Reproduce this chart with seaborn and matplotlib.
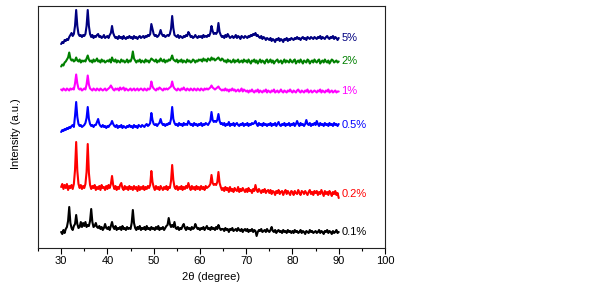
import numpy as np
import pandas as pd
import matplotlib
matplotlib.use("Agg")
import matplotlib.pyplot as plt
import seaborn as sns

sns.set_style("white")
plt.rcParams['font.family'] = ['Liberation Sans', 'DejaVu Sans']
plt.rcParams['font.size'] = 8
plt.rcParams['text.color'] = 'black'
plt.rcParams['axes.labelcolor'] = 'black'
plt.rcParams['xtick.color'] = 'black'

# 2theta grid of the scans (degrees)
two_theta = np.arange(30.0, 90.001, 0.25)

# relative intensities (a.u.), one value per 0.25 deg, 5 deg per row
i_01 = [-2, -4, 0, -3, 1, 3, 9, 23, 7, 2, 0, 4, 6, 15, 6, 2, 3, 8, 3, 7,
        4, 8, 3, 5, 4, 9, 21, 8, 3, 4, 7, 3, 2, 4, 1, 3, 0, 2, 6, 2,
        1, 3, 0, 4, 8, 3, 1, 4, 0, 2, 1, 3, 0, 4, 1, 2, 0, 3, 1, 2,
        1, 7, 20, 7, 2, 0, 3, 1, 4, 0, 2, 1, 3, 0, 4, 1, 2, 0, 3, 1,
        2, 0, 3, 1, 4, 0, 2, 1, 3, 0, 2, 4, 5, 12, 6, 3, 5, 3, 8, 2,
        1, 3, 0, 2, 1, 4, 6, 2, 0, 3, 1, 2, 0, 3, 1, 2, 6, 3, 1, 2,
        0, 2, 1, 3, 0, 2, 4, 1, 2, 0, 3, 1, 2, 0, 3, 1, 5, 2, 0, 1,
        1, -1, 2, 0, 1, -2, 1, 0, 2, -1, 0, 1, -1, 2, 0, -1, 1, -2, 0, 1,
        -1, 1, -2, 0, -1, 1, -2, 0, -1, -6, -2, 0, -1, 1, -2, -1, 0, -2, 1, -1,
        -2, 0, 3, -1, -2, 0, -3, -1, 0, -2, -1, -3, 0, -2, -1, -3, 0, -2, -1, -3,
        -1, -3, 0, -2, -1, -3, -2, 0, -3, -1, -2, -4, -1, -2, -3, 0, -2, -1, -3, -2,
        -1, -3, -2, 0, -3, -1, -2, -4, -1, -2, 0, -3, -1, -2, -4, -1, -3, -2, 0, -3,
        -2]

i_02 = [3, 6, 1, 5, 2, 6, 0, 4, 2, 5, 1, 6, 20, 48, 19, 6, 2, 5, 1, 4,
        2, 6, 18, 46, 17, 5, 1, 4, 2, 5, 0, 3, 1, 4, 0, 5, 2, 3, 0, 4,
        1, 5, 2, 6, 14, 5, 1, 4, 0, 3, 1, 5, 7, 2, 0, 4, 1, 3, 0, 4,
        1, 3, 0, 4, 1, 3, -1, 4, 0, 3, 1, 4, 0, 3, 1, 4, 2, 5, 19, 8,
        3, 0, 4, 1, 3, 0, 4, 2, 0, 3, 1, 4, 0, 3, 2, 9, 25, 10, 3, 1,
        4, 0, 3, 1, 4, 0, 3, 1, 4, 2, 7, 3, 0, 4, 1, 3, 0, 4, 1, 3,
        0, 4, 1, 3, 0, 4, 2, 3, 4, 6, 15, 7, 5, 6, 5, 8, 18, 7, 3, 0,
        2, -1, 3, 0, 2, -2, 3, -1, 1, -2, 2, 0, -1, 3, -2, 1, -1, 2, 0, -2,
        1, -2, 2, -1, 0, -3, 1, -1, 5, 0, -2, 1, -1, -3, 0, -2, 1, -3, -1, 0,
        -3, 0, -4, -1, -2, -5, -1, -3, 0, -4, -2, -1, -5, -2, 0, -4, -1, -3, -5, -1,
        -2, -5, -1, -3, -4, 0, -3, -5, -1, -2, -4, -1, -3, -5, -2, 0, -4, -2, -5, -1,
        -3, -1, -5, -2, -4, 0, -3, -6, -1, -4, -2, -5, -1, -3, -6, -2, -4, -1, -5, -3,
        -8]

i_05 = [-6, -4, -5, -3, -4, -2, -3, -1, -2, 0, 1, -1, 10, 24, 9, 2, 0, 1, -1, 0,
        1, 3, 8, 19, 7, 2, 0, 1, -1, 1, 1, 4, 7, 2, 0, -1, 1, -1, 0, -2,
        0, -1, 1, 2, 5, 2, 0, -1, 1, -2, 0, -1, 1, -2, 0, -1, -2, 0, -1, 1,
        -1, 0, -2, 1, -1, 0, -2, 1, 0, -1, 1, 0, -1, 1, 2, 0, 1, 3, 13, 6,
        2, 1, 2, 0, 2, 3, 7, 3, 1, 2, 0, 2, 1, 3, 2, 7, 19, 7, 3, 1,
        2, 0, 3, 1, 2, 0, 3, 1, 2, 1, 5, 3, 1, 2, 0, 3, 1, 2, 0, 2,
        1, 3, 0, 2, 1, 3, 2, 1, 3, 5, 14, 6, 4, 5, 4, 6, 12, 5, 2, 3,
        1, 3, 0, 2, 1, 4, 0, 2, 1, 3, 0, 2, 3, 1, 0, 2, 1, 3, 0, 2,
        1, 3, 0, 2, 1, 3, 2, 3, 5, 2, 0, 3, 1, 2, 0, 3, 1, 2, 0, 2,
        1, 3, 0, 2, 1, 3, 0, 2, 4, 1, 0, 2, 1, 3, 0, 2, 1, 3, 0, 2,
        1, 3, 0, 2, 5, 2, 0, 3, 1, 2, 0, 2, 6, 2, 1, 3, 0, 2, 1, 3,
        1, 5, 2, 0, 3, 1, 2, 0, 3, 1, 2, 0, 3, 1, 2, 0, 3, 1, 2, 0,
        2]

i_1 = [0, -1, 1, 0, -1, 1, 0, -1, 1, 0, 1, 0, 6, 15, 6, 1, 0, 1, -1, 0,
       1, 0, 5, 14, 5, 1, 0, -1, 1, 0, -1, 1, 0, -1, 1, 0, -1, 0, 1, -1,
       0, 1, 2, 4, 2, 0, -1, 1, 0, 1, -1, 2, 0, 1, 2, -1, 1, 0, -1, 0,
       1, -1, 0, 1, -1, 0, 1, -1, 0, 1, 0, -1, 1, 0, -1, 1, 0, 1, 8, 3,
       1, 0, -1, 1, 0, 2, 1, 0, -1, 1, 0, 1, 0, 1, 2, 3, 8, 3, 1, 0,
       -1, 1, 0, -1, 1, 0, 2, 0, -1, 1, 0, -1, 1, 0, -1, 1, 0, -1, 1, 0,
       -1, 1, 0, -1, 1, 0, 1, 0, 1, 2, 4, 2, 1, 0, 1, 2, 3, 1, 0, -1,
       0, -1, 1, -1, 0, -2, 0, -1, 1, -1, 0, -2, -1, 0, -2, -1, 1, -2, 0, -1,
       -2, -1, -3, -1, -2, 0, -2, -3, -1, -2, 0, -3, -1, -2, -3, -1, -2, 0, -3, -1,
       -2, -3, -1, -2, 0, -3, -2, -1, -3, -2, 0, -2, -3, -1, -2, -3, -1, -2, 0, -2,
       -3, -1, -2, -3, -1, 0, -2, -3, -1, -2, -3, -1, -2, 0, -3, -2, -1, -3, -2, -1,
       -2, -3, -1, -2, 0, -3, -1, -2, -3, -1, -2, 0, -3, -2, -1, -3, -2, -1, -3, -2,
       -2]

i_2 = [-5, -3, -4, -1, 0, 2, 4, 9, 3, 1, 2, 0, 1, 4, 1, 0, 2, -1, 1, 0,
       1, 0, 3, 6, 2, 0, 1, -1, 2, 0, 1, 3, 0, 1, -1, 2, 0, 1, -1, 0,
       1, 0, 2, -1, 4, 1, 0, 2, -1, 1, 0, -1, 2, 0, 1, -1, 0, 2, -1, 1,
       0, 3, 10, 3, 1, -1, 1, 0, 2, -1, 1, 0, -1, 2, 0, 1, -1, 1, 3, 2,
       1, 0, 2, -1, 1, 0, 3, 1, 0, 2, -1, 1, 0, 2, 1, 3, 6, 2, 1, 0,
       2, -1, 1, 0, 2, -1, 1, 0, -1, 2, 0, 1, -1, 0, 2, 1, -1, 1, 0, 2,
       1, 2, 0, 3, 1, 2, 0, 3, 2, 1, 4, 2, 3, 1, 2, 3, 4, 2, 1, 3,
       2, 0, 1, -1, 2, 0, 1, -1, 0, 2, -1, 1, 0, 2, -1, 0, 1, -1, 2, 0,
       1, -1, 2, 0, -2, 1, 0, 2, -1, 1, -2, 0, 2, -1, 1, 0, -2, 1, 2, -1,
       0, 2, -1, 1, -2, 0, 1, 2, -1, 0, 1, -2, 0, 2, -1, 1, 0, -1, 2, 0,
       -1, 1, 2, -2, 0, 1, -1, 2, 0, -2, 1, 0, -1, 2, 1, -2, 0, 1, -1, 2,
       0, -1, 1, 2, -2, 0, 1, -1, 2, 0, -1, 1, -2, 0, 2, 1, -1, 0, 1, -1,
       0]

i_5 = [-7, -5, -6, -3, -4, -2, -3, 0, 2, 4, 1, 3, 11, 27, 11, 3, 1, 2, 0, 2,
       1, 3, 11, 27, 11, 3, 0, 2, -1, 1, 0, 2, 3, 0, 1, -1, 0, 2, -1, 0,
       1, -1, 2, 4, 11, 4, 1, -1, 0, -2, 1, -1, 0, -2, 1, -1, -2, 0, -1, 1,
       -1, 0, -2, 1, -1, 0, -2, 0, 1, -1, 0, 1, -1, 1, 0, 2, 1, 3, 13, 8,
       3, 1, 2, 0, 1, 3, 7, 3, 1, 2, 0, 1, 2, 1, 3, 8, 21, 9, 2, 1,
       0, 2, -1, 1, 0, -1, 1, 0, 2, 1, 5, 3, 0, 1, -1, 0, 2, 0, -1, 1,
       0, 1, -1, 2, 0, 1, 0, 2, 1, 4, 11, 6, 3, 4, 3, 5, 14, 5, 2, 0,
       1, -1, 2, 0, 3, 1, -1, 0, 1, -1, 0, 2, -1, 1, 0, -2, 1, 0, -1, 1,
       0, -1, 1, 0, 2, 1, 3, 2, 4, 1, 2, 0, -1, 1, -2, 0, -1, -3, -1, -2,
       -3, -1, -4, -2, -3, -5, -2, -3, -1, -4, -2, -3, -5, -2, -3, -1, -4, -2, -3, -1,
       -2, -3, -1, -2, 0, -2, -1, -3, -1, 0, -2, -1, -3, 0, -1, -2, 0, -1, -2, 0,
       -1, -2, 0, -1, 1, -2, 0, -1, -2, 0, 1, -1, -2, 0, -1, 1, -2, 0, -1, -3,
       -1]

samples = ['0.1%', '0.2%', '0.5%', '1%', '2%', '5%']
intensities = [i_01, i_02, i_05, i_1, i_2, i_5]
# vertical stacking of the patterns
offsets = [20, 60, 124, 160.5, 188.5, 213]
colors = ['#000000', '#ff0000', '#0000ff', '#ff00ff', '#008000', '#000080']

frames = []
for name, vals, off in zip(samples, intensities, offsets):
    frames.append(pd.DataFrame({'two_theta': two_theta,
                                'intensity': np.array(vals) + off,
                                'sample': name}))
df = pd.concat(frames, ignore_index=True)

fig = plt.figure(figsize=(6.05, 2.88), dpi=100)
ax = fig.add_axes([38 / 605, 40 / 288, 347 / 605, 242.5 / 288])

sns.lineplot(data=df, x='two_theta', y='intensity', hue='sample',
             palette=dict(zip(samples, colors)), estimator=None,
             linewidth=1.5, legend=False, ax=ax)

for name, vals, off, c in zip(samples, intensities, offsets, colors):
    ax.text(90.6, off + np.mean(vals[-8:]), name, color=c, fontsize=8,
            ha='left', va='center')

ax.set_xlim(25, 100)
ax.set_ylim(2, 244.5)
ax.set_xticks(np.arange(30, 101, 10))
ax.set_xticks(np.arange(25, 100, 10), minor=True)
ax.set_yticks([])
ax.tick_params(axis='x', which='major', direction='out', length=4, width=0.8,
               pad=2, labelsize=8, bottom=True)
ax.tick_params(axis='x', which='minor', direction='out', length=2.5, width=0.8,
               bottom=True)
for s in ax.spines.values():
    s.set_linewidth(0.8)
    s.set_color('#222222')

ax.set_xlabel('2θ (degree)', fontsize=8, labelpad=4)
ax.set_ylabel('Intensity (a.u.)', fontsize=8)
ax.yaxis.set_label_coords(-0.05, 0.47)

fig.savefig('out.png', dpi=100)
